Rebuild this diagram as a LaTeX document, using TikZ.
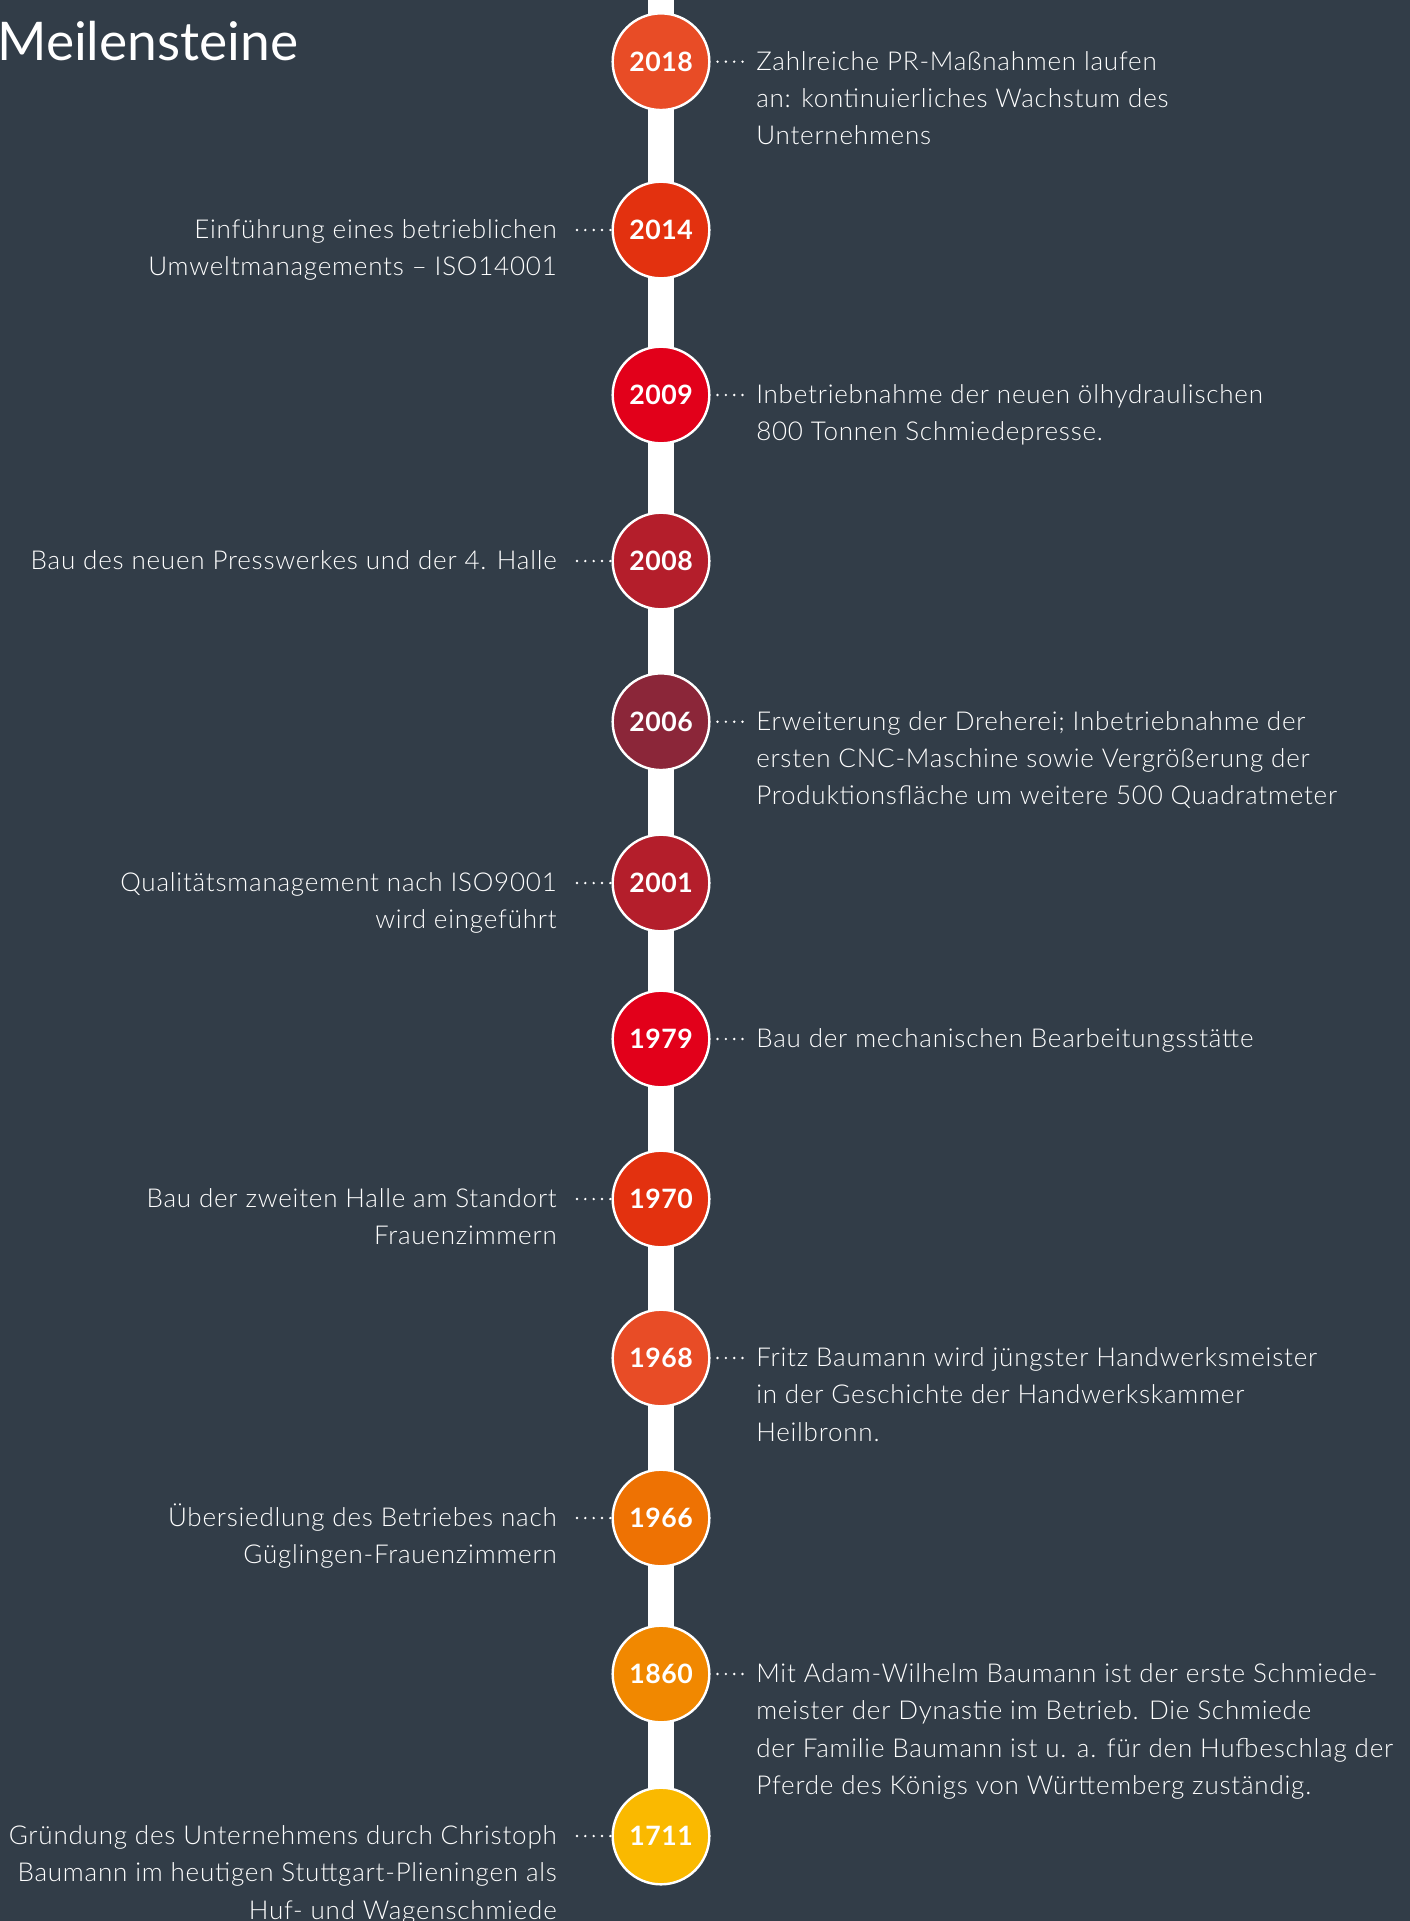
\documentclass[tikz,border=0pt]{standalone}
\usepackage{fontspec}
\setmainfont{Lato}
\newfontfamily\lightfont[LetterSpace=3]{Lato Light}
\newfontfamily\yearfam[LetterSpace=2]{Lato}
\usetikzlibrary{calc}
\pgfdeclarelayer{background}
\pgfsetlayers{background,main}
\definecolor{bg}{RGB}{50,61,72}
\definecolor{cA}{HTML}{E84C26}
\definecolor{cB}{HTML}{E3310F}
\definecolor{cC}{HTML}{E2001A}
\definecolor{cD}{HTML}{B41E2B}
\definecolor{cE}{HTML}{8B2639}
\definecolor{cF}{HTML}{EE7203}
\definecolor{cG}{HTML}{F18800}
\definecolor{cH}{HTML}{FAB900}
\newcommand\bodyfont{\lightfont\fontsize{19.5}{28}\selectfont}
\newcommand\yearfont{\yearfam\bfseries\fontsize{20}{22}\selectfont}
\newcommand\titlefont{\fontsize{40}{44}\selectfont}
\tikzset{
  yearnode/.style={circle, draw=white, line width=1.8pt, minimum size=72.5pt, inner sep=0pt, text=white, font=\yearfont},
  rtext/.style={anchor=base west, align=left, inner sep=0pt, text=white, font=\bodyfont},
  ltext/.style={anchor=base east, align=right, inner sep=0pt, text=white, font=\bodyfont},
  dotline/.style={white, line width=2pt, line cap=round, dash pattern=on 0pt off 6.25pt},
  barline/.style={white, line width=20pt}
}
\begin{document}
\begin{tikzpicture}[x=0.75pt,y=-0.75pt]
\useasboundingbox (0,0) rectangle (1410,1921);
\begin{pgfonlayer}{background}
\fill[bg] (0,0) rectangle (1410,1921);
\end{pgfonlayer}

\node[anchor=base west, inner sep=0pt, text=white, font=\titlefont] (title) at (-3,60.7) {Meilensteine};

% circles
\node[yearnode, fill=cA] (c2018) at (661,61.7) {2018};
\node[yearnode, fill=cB] (c2014) at (661,230) {2014};
\node[yearnode, fill=cC] (c2009) at (661,395) {2009};
\node[yearnode, fill=cD] (c2008) at (661,561) {2008};
\node[yearnode, fill=cE] (c2006) at (661,721.7) {2006};
\node[yearnode, fill=cD] (c2001) at (661,883) {2001};
\node[yearnode, fill=cC] (c1979) at (661,1039) {1979};
\node[yearnode, fill=cB] (c1970) at (661,1199) {1970};
\node[yearnode, fill=cA] (c1968) at (661,1358) {1968};
\node[yearnode, fill=cF] (c1966) at (661,1518) {1966};
\node[yearnode, fill=cG] (c1860) at (661,1674) {1860};
\node[yearnode, fill=cH] (c1711) at (661,1836) {1711};

% texts right (base anchor = baseline of the last line)
\node[rtext] (t2018) at (756,144.9) {Zahlreiche PR-Maßnahmen laufen\\an: kontinuierliches Wachstum des\\Unternehmens};
\node[rtext] (t2009) at (756,440.8) {Inbetriebnahme der neuen ölhydraulischen\\800 Tonnen Schmiedepresse.};
\node[rtext] (t2006) at (756,804.9) {Erweiterung der Dreherei; Inbetriebnahme der\\ersten CNC-Maschine sowie Vergrößerung der\\Produktionsfläche um weitere 500 Quadratmeter};
\node[rtext] (t1979) at (756,1047.5) {Bau der mechanischen Bearbeitungsstätte};
\node[rtext] (t1968) at (756,1441.2) {Fritz Baumann wird jüngster Handwerksmeister\\in der Geschichte der Handwerkskammer\\Heilbronn.};
\node[rtext] (t1860) at (756,1794.5) {Mit Adam-Wilhelm Baumann ist der erste Schmiede-\\meister der Dynastie im Betrieb. Die Schmiede\\der Familie Baumann ist u. a. für den Hufbeschlag der\\Pferde des Königs von Württemberg zuständig.};

% texts left
\node[ltext] (t2014) at (557,275.8) {Einführung eines betrieblichen\\Umweltmanagements – ISO14001};
\node[ltext] (t2008) at (557,569.5) {Bau des neuen Presswerkes und der 4. Halle};
\node[ltext] (t2001) at (557,928.8) {Qualitätsmanagement nach ISO9001\\wird eingeführt};
\node[ltext] (t1970) at (557,1244.8) {Bau der zweiten Halle am Standort\\Frauenzimmern};
\node[ltext] (t1966) at (557,1563.8) {Übersiedlung des Betriebes nach\\Güglingen-Frauenzimmern};
\node[ltext] (t1711) at (557,1919.2) {Gründung des Unternehmens durch Christoph\\Baumann im heutigen Stuttgart-Plieningen als\\Huf- und Wagenschmiede};

\coordinate (bartop) at (661,0);
\begin{pgfonlayer}{background}
\draw[barline] (bartop) -- (c1711.center);
\foreach \y in {2018,2009,2006,1979,1968,1860}{
  \draw[dotline] ($(c\y.east)+(7,0)$) -- ($(c\y.east -| t\y.west)+(-13,0)$);
}
\foreach \y in {2014,2008,2001,1970,1966,1711}{
  \draw[dotline] ($(c\y.west -| t\y.east)+(20,0)$) -- (c\y.west);
}
\end{pgfonlayer}
\end{tikzpicture}
\end{document}
